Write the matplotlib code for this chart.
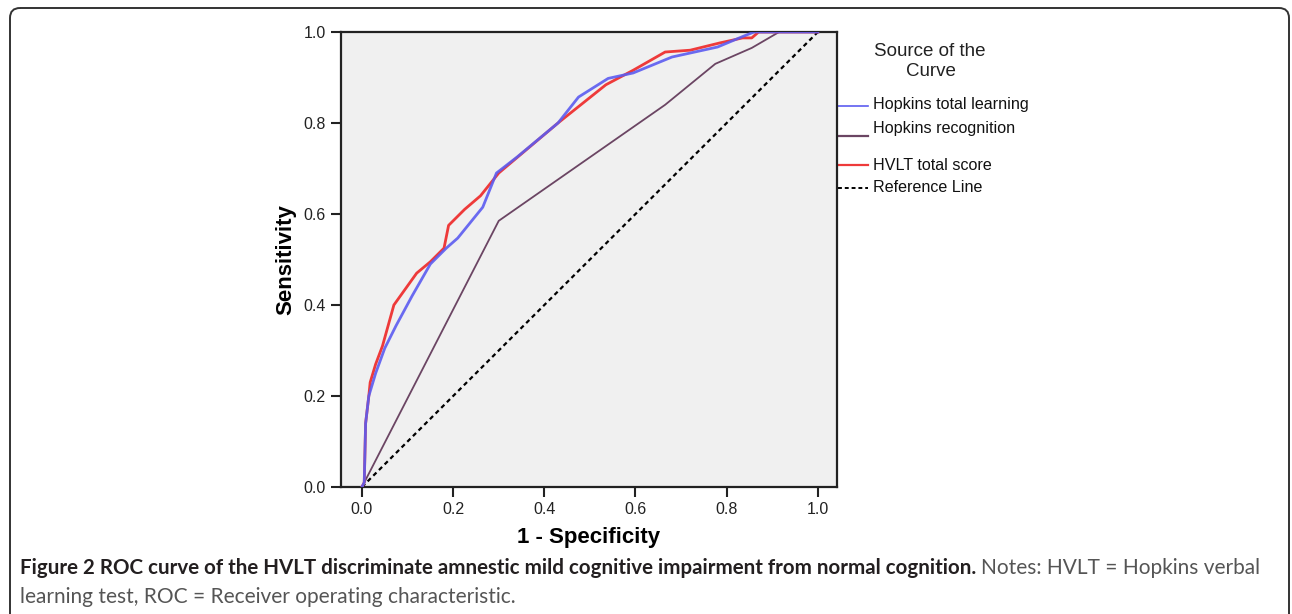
import matplotlib
matplotlib.use('Agg')
import matplotlib.pyplot as plt
from matplotlib.patches import FancyBboxPatch

# ROC curve points (1 - specificity, sensitivity)
learning_fpr = [0.0, 0.005, 0.008, 0.015, 0.03, 0.05, 0.075, 0.11, 0.15, 0.185, 0.21, 0.265,
                0.295, 0.34, 0.43, 0.475, 0.54, 0.595, 0.68, 0.78, 0.835, 0.86, 1.0]
learning_tpr = [0.0, 0.01, 0.14, 0.2, 0.25, 0.305, 0.355, 0.42, 0.49, 0.525, 0.547, 0.615,
                0.69, 0.725, 0.80, 0.857, 0.898, 0.91, 0.945, 0.967, 0.99, 1.0, 1.0]

recognition_fpr = [0.0, 0.30, 0.665, 0.775, 0.855, 0.915, 1.0]
recognition_tpr = [0.0, 0.585, 0.84, 0.93, 0.965, 1.0, 1.0]

total_fpr = [0.0, 0.005, 0.008, 0.015, 0.018, 0.03, 0.045, 0.07, 0.12, 0.15, 0.18, 0.19, 0.225,
             0.26, 0.3, 0.43, 0.535, 0.595, 0.665, 0.72, 0.785, 0.835, 0.855, 0.87, 1.0]
total_tpr = [0.0, 0.01, 0.14, 0.2, 0.23, 0.27, 0.31, 0.40, 0.47, 0.495, 0.525, 0.575, 0.61,
             0.64, 0.69, 0.80, 0.884, 0.916, 0.956, 0.96, 0.976, 0.987, 0.987, 1.0, 1.0]

ref_line = [0.0, 1.0]
ticks = [0.0, 0.2, 0.4, 0.6, 0.8, 1.0]

legend_labels = ['Hopkins total learning', 'Hopkins recognition', 'HVLT total score', 'Reference Line']

BLUE = '#5c5cf0'
PURPLE = '#6b4563'
RED = '#ee3a3a'

plt.rcParams['font.family'] = ['Liberation Sans', 'DejaVu Sans']

W, H = 1292, 614
fig = plt.figure(figsize=(W / 100, H / 100), dpi=100)

# background axes in pixel coordinates for frame, legend and caption
bg = fig.add_axes([0, 0, 1, 1])
bg.set_xlim(0, W)
bg.set_ylim(H, 0)
bg.axis('off')
bg.add_patch(FancyBboxPatch((10, 8), 1279, 660, boxstyle='round,pad=0,rounding_size=10',
                            fill=False, lw=1.4, ec='#333333'))

# main plot
left, right, top, bottom = 341, 837, 32, 487
ax = fig.add_axes([left / W, (H - bottom) / H, (right - left) / W, (bottom - top) / H])
ax.set_facecolor('#f0f0f0')
ax.plot(ref_line, ref_line, color='black', lw=1.6, linestyle=(0, (2, 1.6)), zorder=2)
ax.plot(recognition_fpr, recognition_tpr, color=PURPLE, lw=1.3, zorder=3)
ax.plot(total_fpr, total_tpr, color=RED, lw=2.0, zorder=4)
ax.plot(learning_fpr, learning_tpr, color=BLUE, lw=2.0, alpha=0.9, zorder=5)

ax.set_xlim(-0.046, 1.042)
ax.set_ylim(0, 1)
ax.set_xticks(ticks)
ax.set_yticks(ticks)
ax.set_xticklabels(['%.1f' % t for t in ticks])
ax.set_yticklabels(['%.1f' % t for t in ticks])
ax.tick_params(direction='out', length=7, width=1.5, labelsize=11.5, colors='#222222', pad=4)
for s in ax.spines.values():
    s.set_linewidth(1.6)
    s.set_color('#222222')
ax.set_xlabel('1 - Specificity', fontsize=16, fontweight='bold', labelpad=7)
ax.set_ylabel('Sensitivity', fontsize=16, fontweight='bold', labelpad=5)

# legend drawn by hand to match the original layout
bg.text(930, 52, 'Source of the', fontsize=13.5, ha='center', va='center', color='#222222')
bg.text(931, 72, 'Curve', fontsize=13.5, ha='center', va='center', color='#222222')
leg_lines = [106, 136, 165, 188]
leg_texts = [105, 128, 165, 188]
leg_styles = [dict(color=BLUE, lw=1.2), dict(color=PURPLE, lw=1.6),
              dict(color=RED, lw=1.6), dict(color='black', lw=1.4, linestyle=(0, (2, 1.5)))]
for label, yl, yt, st in zip(legend_labels, leg_lines, leg_texts, leg_styles):
    bg.plot([838, 868], [yl, yl], **st)
    bg.text(873, yt, label, fontsize=11.6, va='center', color='#111111')

# caption: bold title, then the notes in a lighter face running to the right edge
cap_font = ['Lato', 'DejaVu Sans']
bold = bg.text(20, 568, 'Figure 2 ROC curve of the HVLT discriminate amnestic mild cognitive '
               'impairment from normal cognition.', fontsize=14.8, fontweight='bold',
               family=cap_font, va='center', color='#231f20')
notes = bg.text(0, 568, 'Notes: HVLT = Hopkins verbal', fontsize=14,
                family=cap_font, va='center', color='#555555')
fig.canvas.draw()
r = fig.canvas.get_renderer()
x_end = bold.get_window_extent(r).x1 + 5
notes.set_x(x_end)
size = 14 * (1262 - x_end) / notes.get_window_extent(r).width
notes.set_fontsize(size)
bg.text(20, 597, 'learning test, ROC = Receiver operating characteristic.', fontsize=size,
        family=cap_font, va='center', color='#555555')

fig.savefig('out.png', dpi=100)
